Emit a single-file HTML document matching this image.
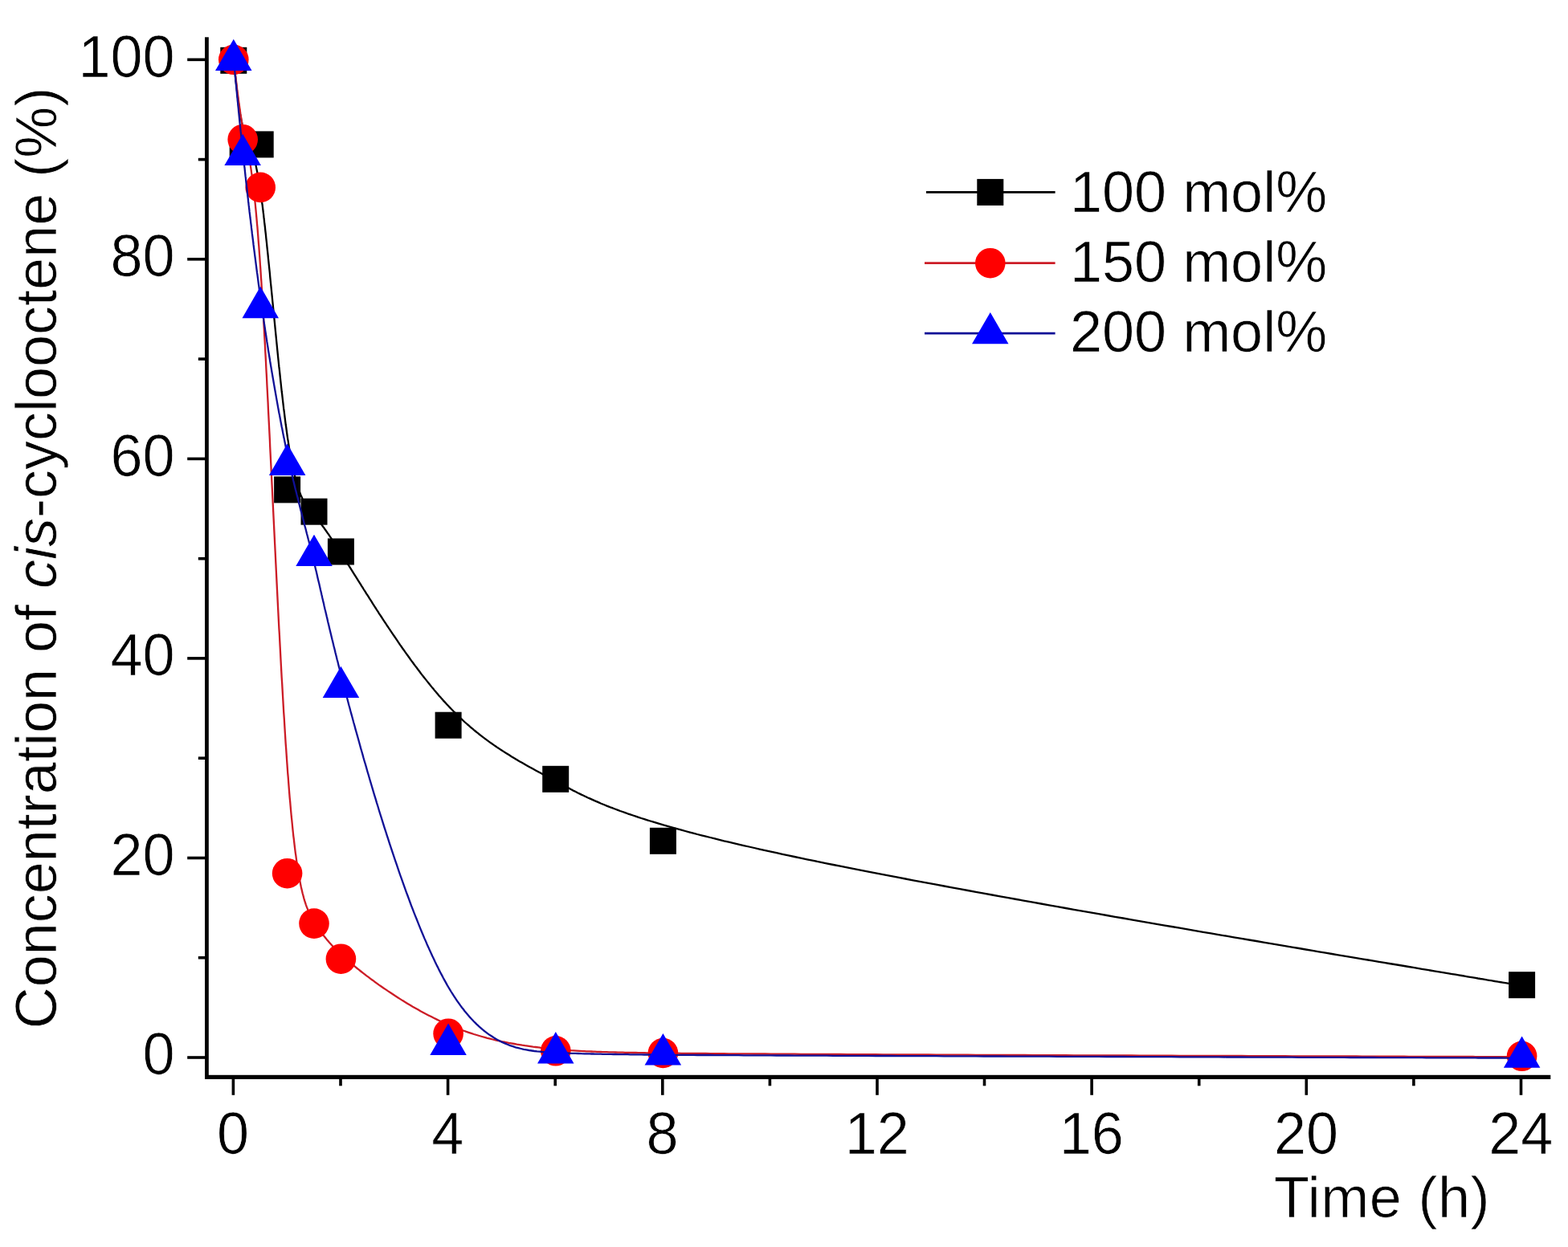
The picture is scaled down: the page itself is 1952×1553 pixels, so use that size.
<!DOCTYPE html>
<html lang="en"><head><meta charset="utf-8"><title>Concentration of cis-cyclooctene vs time</title>
<style>
html,body{margin:0;padding:0;background:#ffffff;}
body{width:1952px;height:1553px;overflow:hidden;}
svg{display:block;}
</style></head><body>
<svg width="1952" height="1553" viewBox="0 0 1952 1553">
<rect width="1952" height="1553" fill="#ffffff"/>
<g fill="#000">
<rect x="255" y="46.3" width="4.8" height="1297.7"/>
<rect x="255" y="1338.8" width="1675.3" height="5.2"/>
<rect x="233.2" y="1315.2" width="23.8" height="3.6"/>
<rect x="246.8" y="1190.9" width="10.2" height="3.6"/>
<rect x="233.2" y="1066.7" width="23.8" height="3.6"/>
<rect x="246.8" y="942.4" width="10.2" height="3.6"/>
<rect x="233.2" y="818.1" width="23.8" height="3.6"/>
<rect x="246.8" y="693.9" width="10.2" height="3.6"/>
<rect x="233.2" y="569.6" width="23.8" height="3.6"/>
<rect x="246.8" y="445.3" width="10.2" height="3.6"/>
<rect x="233.2" y="321" width="23.8" height="3.6"/>
<rect x="246.8" y="196.8" width="10.2" height="3.6"/>
<rect x="233.2" y="72.5" width="23.8" height="3.6"/>
<rect x="288.6" y="1343" width="3.6" height="20.8"/>
<rect x="422.2" y="1343" width="3.6" height="9.3"/>
<rect x="555.8" y="1343" width="3.6" height="20.8"/>
<rect x="689.4" y="1343" width="3.6" height="9.3"/>
<rect x="823" y="1343" width="3.6" height="20.8"/>
<rect x="956.6" y="1343" width="3.6" height="9.3"/>
<rect x="1090.2" y="1343" width="3.6" height="20.8"/>
<rect x="1223.7" y="1343" width="3.6" height="9.3"/>
<rect x="1357.3" y="1343" width="3.6" height="20.8"/>
<rect x="1490.9" y="1343" width="3.6" height="9.3"/>
<rect x="1624.5" y="1343" width="3.6" height="20.8"/>
<rect x="1758.1" y="1343" width="3.6" height="9.3"/>
<rect x="1891.7" y="1343" width="3.6" height="20.8"/>
</g>
<g font-family="'Liberation Sans', sans-serif" font-size="72" fill="#000" stroke="#ffffff" stroke-width="0.7" stroke-linejoin="round">
<text transform="translate(217.5 1338.3) scale(1 1.03)" text-anchor="end">0</text>
<text transform="translate(217.5 1089.8) scale(1 1.03)" text-anchor="end">20</text>
<text transform="translate(217.5 841.2) scale(1 1.03)" text-anchor="end">40</text>
<text transform="translate(217.5 592.7) scale(1 1.03)" text-anchor="end">60</text>
<text transform="translate(217.5 344.1) scale(1 1.03)" text-anchor="end">80</text>
<text transform="translate(217.5 95.6) scale(1 1.03)" text-anchor="end">100</text>
<text transform="translate(290.1 1437) scale(1 1.03)" text-anchor="middle">0</text>
<text transform="translate(557.3 1437) scale(1 1.03)" text-anchor="middle">4</text>
<text transform="translate(824.5 1437) scale(1 1.03)" text-anchor="middle">8</text>
<text transform="translate(1091.7 1437) scale(1 1.03)" text-anchor="middle">12</text>
<text transform="translate(1358.8 1437) scale(1 1.03)" text-anchor="middle">16</text>
<text transform="translate(1626 1437) scale(1 1.03)" text-anchor="middle">20</text>
<text transform="translate(1893.2 1437) scale(1 1.03)" text-anchor="middle">24</text>
<text x="1586" y="1515.8" letter-spacing="0.45">Time (h)</text>
<text transform="translate(70 1281.3) rotate(-90)">Concentration of <tspan font-style="italic">cis</tspan>-cyclooctene (%)</text>
<text x="1332" y="263.8">100 mol%</text>
<text x="1332" y="350.7">150 mol%</text>
<text x="1332" y="438.2">200 mol%</text>
</g>
<path transform="translate(0.2 1)" d="M290.8 75.3 L291 77.4 L291.2 79.4 L291.4 81.4 L291.7 83.6 L291.9 85.8 L292.1 87.8 L292.4 90 L292.6 92.5 L292.8 94.5 L293.1 96.7 L293.3 99 L293.6 101.4 L293.9 104 L294.2 106.6 L294.5 109.3 L294.8 112.1 L295.1 115 L295.5 117.9 L295.9 120.8 L296.3 123.8 L296.5 125.8 L296.8 127.8 L297.1 129.8 L297.4 131.8 L297.7 133.8 L298 135.8 L298.4 138.7 L298.9 141.6 L299.4 144.5 L299.9 147.3 L300.5 150 L301 152.6 L301.6 155.2 L302.1 157.6 L302.7 159.9 L303.3 162.1 L303.9 164.1 L304.8 166.6 L305.7 168.9 L306.6 171.1 L307.5 173.1 L308.5 175.2 L309.4 177.3 L310.4 179.6 L311.5 182.1 L312.3 184.1 L313.1 186.3 L313.9 188.7 L314.8 191.4 L315.6 194.3 L316.2 196.4 L316.8 198.6 L317.4 201 L318 203.6 L318.6 206.3 L319.2 209.2 L319.8 212.2 L320.5 215.5 L321.1 218.9 L321.7 222.6 L322.4 226.5 L322.7 228.5 L323.1 230.6 L323.4 232.7 L323.7 234.9 L324.1 237.2 L324.4 239.5 L324.7 241.8 L325.1 244.3 L325.4 246.8 L325.8 249.4 L326.1 252 L326.5 254.7 L326.8 257.5 L327.2 260.3 L327.5 263.2 L327.9 266.2 L328.2 269.2 L328.6 272.3 L328.9 275.4 L329.3 278.6 L329.7 281.8 L330 285.1 L330.4 288.5 L330.8 291.9 L331.1 295.3 L331.5 298.8 L331.9 302.3 L332.2 305.9 L332.6 309.5 L333 313.1 L333.4 316.8 L333.7 320.5 L334.1 324.2 L334.5 328 L334.9 331.8 L335.3 335.7 L335.7 339.5 L336 343.4 L336.4 347.3 L336.8 351.3 L337.2 355.2 L337.6 359.2 L338 363.2 L338.4 367.2 L338.8 371.2 L339.2 375.3 L339.6 379.3 L340 383.3 L340.4 387.4 L340.8 391.5 L341.2 395.5 L341.6 399.6 L342 403.7 L342.4 407.8 L342.8 411.8 L343.2 415.9 L343.6 419.9 L344 424 L344.4 428 L344.8 432.1 L345.2 436.1 L345.6 440.1 L346 444.1 L346.4 448 L346.8 452 L347.2 455.9 L347.7 459.8 L348.1 463.7 L348.5 467.6 L348.9 471.4 L349.3 475.2 L349.7 479 L350.1 482.7 L350.5 486.5 L351 490.1 L351.4 493.8 L351.8 497.4 L352.2 500.9 L352.6 504.4 L353 507.9 L353.5 511.3 L353.9 514.7 L354.3 518.1 L354.7 521.3 L355.1 524.6 L355.5 527.8 L356 530.9 L356.4 533.9 L356.8 537 L357.2 539.9 L357.6 542.8 L358 545.6 L358.5 548.4 L358.9 551.1 L359.3 553.7 L359.7 556.3 L360.1 558.8 L360.5 561.3 L361 563.7 L361.4 566.1 L361.8 568.4 L362.2 570.6 L362.6 572.8 L363.1 574.9 L363.5 577 L363.9 579.1 L364.3 581 L365.1 584.9 L366 588.5 L366.8 591.9 L367.6 595.2 L368.5 598.3 L369.3 601.2 L370.2 604 L371 606.6 L371.8 609.1 L372.7 611.4 L373.5 613.6 L374.3 615.7 L375.2 617.6 L376 619.4 L377.3 622 L378.5 624.4 L379.8 626.5 L381 628.5 L382.3 630.3 L383.5 632.1 L384.8 633.7 L386.4 635.7 L388.1 637.6 L389.8 639.5 L391.5 641.5 L393.1 643.4 L394.8 645.5 L396.1 647.1 L397.4 648.7 L398.7 650.5 L400.1 652.3 L401.5 654.2 L403 656.2 L404.4 658.3 L406 660.5 L407.6 662.8 L409.3 665.2 L410.4 666.9 L411.6 668.6 L412.8 670.5 L414.1 672.3 L415.3 674.3 L416.7 676.3 L418 678.4 L419.4 680.5 L420.9 682.8 L422.4 685.1 L423.9 687.5 L425.5 690 L427.1 692.5 L428.8 695.2 L430.6 697.9 L432.4 700.8 L434.2 703.7 L436.1 706.7 L438.1 709.8 L440.1 713.1 L442.2 716.4 L443.3 718.1 L444.4 719.8 L445.5 721.6 L446.6 723.3 L447.7 725.1 L448.8 726.9 L450 728.8 L451.2 730.6 L452.3 732.5 L453.5 734.4 L454.8 736.3 L456 738.3 L457.2 740.2 L458.5 742.2 L459.7 744.2 L461 746.2 L462.3 748.2 L463.6 750.3 L464.9 752.3 L466.2 754.4 L467.6 756.5 L468.9 758.6 L470.3 760.7 L471.6 762.8 L473 764.9 L474.4 767 L475.8 769.2 L477.2 771.3 L478.6 773.5 L480.1 775.7 L481.5 777.8 L483 780 L484.4 782.2 L485.9 784.4 L487.4 786.6 L488.9 788.8 L490.4 791 L491.9 793.2 L493.4 795.4 L494.9 797.6 L496.4 799.8 L497.9 802.1 L499.5 804.3 L501 806.5 L502.6 808.7 L504.1 810.9 L505.7 813.1 L507.3 815.3 L508.9 817.5 L510.4 819.7 L512 821.9 L513.6 824 L515.2 826.2 L516.8 828.4 L518.5 830.5 L520.1 832.7 L521.7 834.8 L523.3 837 L524.9 839.1 L526.6 841.2 L528.2 843.3 L529.9 845.4 L531.5 847.4 L533.2 849.5 L534.8 851.5 L536.5 853.6 L538.1 855.6 L539.8 857.6 L541.4 859.6 L543.1 861.5 L544.8 863.5 L546.4 865.4 L548.1 867.3 L549.8 869.2 L551.4 871.1 L553.1 872.9 L554.8 874.7 L556.4 876.5 L558.1 878.3 L559.8 880.1 L561.4 881.8 L563.1 883.5 L564.8 885.2 L566.5 886.9 L568.1 888.5 L569.8 890.2 L571.5 891.8 L573.1 893.4 L574.8 894.9 L576.5 896.5 L578.1 898 L579.8 899.5 L581.5 901 L583.2 902.4 L584.8 903.9 L586.5 905.3 L588.2 906.7 L589.8 908.1 L591.5 909.5 L593.2 910.9 L594.9 912.2 L596.5 913.5 L598.2 914.8 L599.9 916.1 L601.5 917.4 L603.2 918.7 L604.9 919.9 L606.5 921.1 L608.2 922.4 L609.9 923.6 L611.6 924.8 L613.2 925.9 L614.9 927.1 L616.6 928.3 L618.2 929.4 L619.9 930.5 L621.6 931.6 L623.3 932.7 L626.6 934.9 L629.9 937 L633.3 939.1 L636.6 941.2 L640 943.2 L643.3 945.2 L646.6 947.2 L650 949.1 L653.3 951 L656.7 952.9 L660 954.8 L663.3 956.6 L666.7 958.4 L670 960.2 L673.4 962.1 L676.7 963.9 L680.1 965.7 L683.4 967.5 L686.7 969.2 L690.1 971 L693.4 972.8 L696.8 974.7 L700.1 976.5 L703.5 978.3 L707 980.1 L710.5 982 L712.3 982.9 L714.1 983.9 L716 984.8 L717.8 985.7 L719.7 986.7 L721.6 987.6 L723.6 988.6 L725.6 989.5 L727.6 990.5 L729.7 991.5 L731.7 992.5 L733.9 993.4 L736.1 994.4 L738.3 995.4 L740.5 996.4 L742.9 997.4 L745.2 998.4 L747.6 999.5 L750.1 1000.5 L752.6 1001.5 L755.2 1002.6 L757.8 1003.6 L760.5 1004.7 L763.3 1005.7 L766.1 1006.8 L769 1007.9 L771.9 1009 L775 1010 L778.1 1011.1 L781.2 1012.3 L784.5 1013.4 L787.8 1014.5 L791.2 1015.6 L794.7 1016.8 L798.2 1018 L801.9 1019.1 L805.6 1020.3 L809.4 1021.5 L813.3 1022.7 L817.3 1023.9 L821.4 1025.1 L825.6 1026.4 L829.9 1027.6 L834.3 1028.8 L838.8 1030.1 L843.4 1031.4 L848.1 1032.7 L852.9 1034 L857.8 1035.3 L862.8 1036.6 L867.9 1038 L873.1 1039.3 L878.5 1040.7 L884 1042 L889.6 1043.4 L895.3 1044.8 L901.1 1046.3 L907.1 1047.7 L913.2 1049.1 L919.4 1050.6 L925.7 1052.1 L932.2 1053.5 L938.8 1055 L945.5 1056.6 L952.4 1058.1 L959.4 1059.6 L966.6 1061.2 L973.9 1062.8 L981.3 1064.4 L988.9 1066 L996.6 1067.6 L1004.5 1069.3 L1012.5 1070.9 L1020.7 1072.6 L1028.9 1074.3 L1037.3 1076 L1045.8 1077.7 L1054.4 1079.4 L1063.2 1081.1 L1072 1082.8 L1080.9 1084.6 L1090 1086.4 L1099.1 1088.1 L1108.3 1089.9 L1117.6 1091.7 L1127 1093.5 L1136.5 1095.3 L1146.1 1097.1 L1155.7 1098.9 L1165.4 1100.7 L1175.1 1102.5 L1185 1104.3 L1194.8 1106.2 L1204.8 1108 L1214.7 1109.8 L1224.7 1111.7 L1234.8 1113.5 L1244.9 1115.3 L1255 1117.2 L1265.2 1119 L1275.4 1120.8 L1285.6 1122.7 L1295.8 1124.5 L1306 1126.3 L1316.2 1128.1 L1326.5 1130 L1336.7 1131.8 L1347 1133.6 L1357.2 1135.4 L1367.4 1137.2 L1377.7 1139 L1387.8 1140.8 L1398 1142.5 L1408.2 1144.3 L1418.3 1146.1 L1428.4 1147.8 L1438.4 1149.6 L1448.4 1151.3 L1458.4 1153 L1468.3 1154.7 L1478.1 1156.4 L1487.9 1158.1 L1497.7 1159.8 L1507.3 1161.4 L1516.9 1163.1 L1526.5 1164.7 L1535.9 1166.3 L1545.3 1167.9 L1554.6 1169.5 L1563.8 1171 L1572.9 1172.6 L1581.9 1174.1 L1590.8 1175.6 L1599.6 1177.1 L1608.3 1178.6 L1616.8 1180 L1625.3 1181.5 L1633.7 1182.9 L1641.9 1184.3 L1650 1185.6 L1657.9 1187 L1665.8 1188.3 L1673.4 1189.6 L1681 1190.8 L1688.4 1192.1 L1695.6 1193.3 L1702.7 1194.5 L1709.6 1195.6 L1716.4 1196.8 L1723 1197.9 L1729.4 1199 L1735.7 1200 L1741.8 1201 L1747.8 1202 L1753.6 1203 L1759.2 1203.9 L1764.7 1204.9 L1770 1205.8 L1775.2 1206.6 L1780.3 1207.5 L1785.2 1208.3 L1789.9 1209.1 L1794.5 1209.9 L1799 1210.6 L1803.4 1211.4 L1807.6 1212.1 L1811.7 1212.7 L1815.6 1213.4 L1819.4 1214 L1823.1 1214.7 L1826.7 1215.3 L1830.1 1215.8 L1833.5 1216.4 L1836.7 1216.9 L1839.8 1217.5 L1842.8 1218 L1845.7 1218.4 L1848.4 1218.9 L1851.1 1219.4 L1853.7 1219.8 L1856.1 1220.2 L1858.5 1220.6 L1860.7 1221 L1862.9 1221.3 L1865 1221.7 L1866.9 1222 L1870.6 1222.6 L1874 1223.2 L1877 1223.7 L1879.7 1224.2 L1882.1 1224.6 L1884.2 1224.9 L1887 1225.4 L1889.2 1225.7 L1891.4 1226.1 L1893.4 1226.5 L1894.6 1226.7" fill="none" stroke="#000" stroke-width="2.3" stroke-linejoin="round"/>
<g fill="#000"><rect x="274.3" y="58.8" width="33" height="33"/><rect x="285.7" y="165.9" width="33" height="33"/><rect x="307.7" y="163.4" width="33" height="33"/><rect x="341.1" y="593.4" width="33" height="33"/><rect x="374.5" y="620.7" width="33" height="33"/><rect x="407.9" y="670.5" width="33" height="33"/><rect x="541.6" y="886.7" width="33" height="33"/><rect x="675.2" y="953.8" width="33" height="33"/><rect x="808.9" y="1030.8" width="33" height="33"/><rect x="1878.1" y="1210.2" width="33" height="33"/></g>
<path transform="translate(0.2 1)" d="M290.8 74.3 L291 76.4 L291.3 78.6 L291.5 80.6 L291.8 82.8 L292 84.9 L292.3 87.4 L292.6 89.7 L292.8 92.1 L293.1 94.2 L293.3 96.3 L293.6 98.6 L293.9 101 L294.2 103.5 L294.5 106 L294.8 108.7 L295.1 111.5 L295.5 114.3 L295.9 117.2 L296.3 120.2 L296.5 122.2 L296.8 124.2 L297.1 126.3 L297.4 128.3 L297.7 130.4 L298 132.5 L298.3 134.6 L298.6 136.7 L298.9 138.9 L299.2 141 L299.6 143.1 L299.9 145.3 L300.3 147.4 L300.6 149.5 L301 151.6 L301.4 153.7 L301.7 155.8 L302.1 157.9 L302.5 160 L302.9 162 L303.3 164.1 L303.7 166.1 L304.2 168.1 L304.6 170.1 L305 172 L305.4 174 L305.9 176 L306.3 178 L306.8 180.1 L307.3 182.2 L307.7 184.4 L308.2 186.7 L308.7 189.1 L309.2 191.6 L309.7 194.2 L310.2 197 L310.7 199.9 L311.2 203 L311.8 206.3 L312.3 209.7 L312.8 213.4 L313.4 217.2 L313.6 219.3 L313.9 221.3 L314.2 223.5 L314.5 225.7 L314.8 228 L315.1 230.3 L315.3 232.7 L315.6 235.2 L315.9 237.7 L316.2 240.3 L316.5 243 L316.8 245.7 L317.1 248.6 L317.4 251.5 L317.7 254.5 L318 257.6 L318.3 260.7 L318.6 264 L318.9 267.3 L319.2 270.7 L319.5 274.2 L319.8 277.8 L320.2 281.5 L320.5 285.3 L320.8 289.2 L321.1 293.2 L321.4 297.3 L321.7 301.4 L322.1 305.7 L322.4 310.1 L322.7 314.6 L323.1 319.2 L323.4 324 L323.7 328.8 L324.1 333.7 L324.4 338.8 L324.7 343.9 L325.1 349.2 L325.4 354.6 L325.8 360.2 L326.1 365.8 L326.5 371.6 L326.8 377.5 L327.2 383.5 L327.5 389.6 L327.9 395.9 L328.2 402.2 L328.6 408.7 L328.9 415.2 L329.3 421.9 L329.7 428.6 L330 435.5 L330.4 442.4 L330.8 449.4 L331.1 456.5 L331.5 463.7 L331.9 471 L332.2 478.3 L332.6 485.7 L333 493.2 L333.4 500.8 L333.7 508.4 L334.1 516 L334.5 523.8 L334.9 531.5 L335.3 539.4 L335.7 547.2 L336 555.2 L336.4 563.1 L336.8 571.1 L337.2 579.1 L337.6 587.2 L338 595.3 L338.4 603.4 L338.8 611.5 L339.2 619.7 L339.6 627.8 L340 636 L340.4 644.2 L340.8 652.4 L341.2 660.6 L341.6 668.8 L342 677 L342.4 685.2 L342.8 693.4 L343.2 701.5 L343.6 709.7 L344 717.8 L344.4 725.9 L344.8 734 L345.2 742.1 L345.6 750.1 L346 758.1 L346.4 766.1 L346.8 774 L347.2 781.9 L347.7 789.7 L348.1 797.5 L348.5 805.2 L348.9 812.9 L349.3 820.5 L349.7 828.1 L350.1 835.6 L350.5 843 L351 850.3 L351.4 857.6 L351.8 864.8 L352.2 871.9 L352.6 879 L353 885.9 L353.5 892.8 L353.9 899.5 L354.3 906.2 L354.7 912.8 L355.1 919.2 L355.5 925.6 L356 931.9 L356.4 938 L356.8 944 L357.2 949.9 L357.6 955.7 L358 961.4 L358.5 966.9 L358.9 972.4 L359.3 977.7 L359.7 982.9 L360.1 987.9 L360.5 992.9 L361 997.7 L361.4 1002.5 L361.8 1007.1 L362.2 1011.6 L362.6 1016 L363.1 1020.3 L363.5 1024.5 L363.9 1028.6 L364.3 1032.6 L364.7 1036.5 L365.1 1040.3 L365.6 1044 L366 1047.6 L366.4 1051.1 L366.8 1054.5 L367.2 1057.8 L367.6 1061.1 L368.1 1064.2 L368.5 1067.3 L368.9 1070.3 L369.3 1073.2 L369.7 1076 L370.2 1078.7 L370.6 1081.4 L371 1084 L371.4 1086.5 L371.8 1088.9 L372.2 1091.3 L372.7 1093.6 L373.1 1095.8 L373.5 1097.9 L373.9 1100 L374.3 1102 L374.7 1104 L375.6 1107.7 L376.4 1111.2 L377.3 1114.5 L378.1 1117.6 L378.9 1120.4 L379.8 1123.1 L380.6 1125.6 L381.4 1127.9 L382.3 1130.1 L383.1 1132.2 L383.9 1134.1 L385.2 1136.8 L386.4 1139.2 L387.7 1141.5 L388.9 1143.7 L390.2 1145.7 L391.5 1147.7 L392.7 1149.7 L394 1151.7 L395.2 1153.6 L396.5 1155.5 L397.9 1157.4 L399.2 1159.3 L400.6 1161.2 L402 1163.2 L403.4 1165.1 L405 1167 L406.5 1168.9 L408.1 1170.8 L409.8 1172.8 L411.6 1174.8 L413.4 1176.8 L415.3 1178.8 L417.3 1180.9 L419.4 1183 L420.9 1184.4 L422.4 1185.9 L423.9 1187.3 L425.5 1188.8 L427.1 1190.3 L428.8 1191.8 L430.6 1193.4 L432.4 1194.9 L434.2 1196.5 L436.1 1198.2 L438.1 1199.8 L440.1 1201.5 L442.2 1203.2 L444.4 1205 L446.6 1206.7 L448.8 1208.5 L451.2 1210.4 L453.5 1212.2 L456 1214.1 L458.5 1215.9 L461 1217.8 L463.6 1219.7 L466.2 1221.7 L468.9 1223.6 L471.6 1225.6 L474.4 1227.5 L477.2 1229.5 L480.1 1231.4 L483 1233.4 L485.9 1235.3 L488.9 1237.3 L491.9 1239.3 L494.9 1241.2 L497.9 1243.1 L501 1245.1 L504.1 1247 L507.3 1248.9 L510.4 1250.8 L513.6 1252.7 L516.8 1254.5 L520.1 1256.3 L523.3 1258.2 L526.6 1259.9 L529.9 1261.7 L533.2 1263.4 L536.5 1265.1 L539.8 1266.8 L543.1 1268.4 L546.4 1270 L549.8 1271.6 L553.1 1273.1 L556.4 1274.6 L559.8 1276 L563.1 1277.4 L566.5 1278.7 L569.8 1280 L573.1 1281.3 L576.5 1282.5 L579.8 1283.7 L583.2 1284.8 L586.5 1285.9 L589.8 1287 L593.2 1288 L596.5 1289 L599.9 1290 L603.2 1290.9 L606.5 1291.8 L609.9 1292.6 L613.2 1293.5 L616.6 1294.3 L619.9 1295 L623.3 1295.8 L626.6 1296.5 L629.9 1297.1 L633.3 1297.8 L636.6 1298.4 L640 1299 L643.3 1299.6 L646.6 1300.1 L650 1300.7 L653.3 1301.2 L656.7 1301.6 L660 1302.1 L663.3 1302.6 L666.7 1303 L670 1303.4 L673.4 1303.8 L676.7 1304.1 L680.1 1304.5 L683.4 1304.8 L686.7 1305.2 L690.1 1305.5 L693.4 1305.8 L696.8 1306.1 L700.1 1306.4 L703.5 1306.6 L707 1306.9 L710.5 1307.2 L714.1 1307.4 L717.8 1307.6 L721.6 1307.8 L725.6 1308.1 L727.6 1308.2 L729.7 1308.3 L731.7 1308.4 L733.9 1308.4 L736.1 1308.5 L738.3 1308.6 L740.5 1308.7 L742.9 1308.8 L745.2 1308.9 L747.6 1309 L750.1 1309.1 L752.6 1309.1 L755.2 1309.2 L757.8 1309.3 L760.5 1309.4 L763.3 1309.4 L766.1 1309.5 L769 1309.6 L771.9 1309.7 L775 1309.7 L778.1 1309.8 L781.2 1309.9 L784.5 1309.9 L787.8 1310 L791.2 1310 L794.7 1310.1 L798.2 1310.2 L801.9 1310.2 L805.6 1310.3 L809.4 1310.3 L813.3 1310.4 L817.3 1310.4 L821.4 1310.5 L825.6 1310.5 L829.9 1310.6 L834.3 1310.6 L838.8 1310.7 L843.4 1310.7 L848.1 1310.8 L852.9 1310.8 L857.8 1310.9 L862.8 1310.9 L867.9 1311 L873.1 1311 L878.5 1311 L884 1311.1 L889.6 1311.1 L895.3 1311.2 L901.1 1311.2 L907.1 1311.3 L913.2 1311.3 L919.4 1311.3 L925.7 1311.4 L932.2 1311.4 L938.8 1311.5 L945.5 1311.5 L952.4 1311.5 L959.4 1311.6 L966.6 1311.6 L973.9 1311.7 L981.3 1311.7 L988.9 1311.7 L996.6 1311.8 L1004.5 1311.8 L1012.5 1311.9 L1020.7 1311.9 L1028.9 1311.9 L1037.3 1312 L1045.8 1312 L1054.4 1312.1 L1063.2 1312.1 L1072 1312.1 L1080.9 1312.2 L1090 1312.2 L1099.1 1312.3 L1108.3 1312.3 L1117.6 1312.4 L1127 1312.4 L1136.5 1312.4 L1146.1 1312.5 L1155.7 1312.5 L1165.4 1312.6 L1175.1 1312.6 L1185 1312.6 L1194.8 1312.7 L1204.8 1312.7 L1214.7 1312.8 L1224.7 1312.8 L1234.8 1312.9 L1244.9 1312.9 L1255 1312.9 L1265.2 1313 L1275.4 1313 L1285.6 1313.1 L1295.8 1313.1 L1306 1313.1 L1316.2 1313.2 L1326.5 1313.2 L1336.7 1313.3 L1347 1313.3 L1357.2 1313.3 L1367.4 1313.4 L1377.7 1313.4 L1387.8 1313.5 L1398 1313.5 L1408.2 1313.5 L1418.3 1313.6 L1428.4 1313.6 L1438.4 1313.6 L1448.4 1313.7 L1458.4 1313.7 L1468.3 1313.8 L1478.1 1313.8 L1487.9 1313.8 L1497.7 1313.9 L1507.3 1313.9 L1516.9 1313.9 L1526.5 1314 L1535.9 1314 L1545.3 1314 L1554.6 1314.1 L1563.8 1314.1 L1572.9 1314.1 L1581.9 1314.2 L1590.8 1314.2 L1599.6 1314.2 L1608.3 1314.3 L1616.8 1314.3 L1625.3 1314.3 L1633.7 1314.3 L1641.9 1314.4 L1650 1314.4 L1657.9 1314.4 L1665.8 1314.5 L1673.4 1314.5 L1681 1314.5 L1688.4 1314.5 L1695.6 1314.6 L1702.7 1314.6 L1709.6 1314.6 L1716.4 1314.6 L1723 1314.7 L1729.4 1314.7 L1735.7 1314.7 L1741.8 1314.7 L1747.8 1314.7 L1753.6 1314.8 L1759.2 1314.8 L1764.7 1314.8 L1770 1314.8 L1775.2 1314.8 L1780.3 1314.9 L1785.2 1314.9 L1789.9 1314.9 L1794.5 1314.9 L1799 1314.9 L1803.4 1314.9 L1807.6 1315 L1811.7 1315 L1815.6 1315 L1819.4 1315 L1823.1 1315 L1826.7 1315 L1830.1 1315 L1833.5 1315 L1836.7 1315.1 L1839.8 1315.1 L1842.8 1315.1 L1845.7 1315.1 L1848.4 1315.1 L1851.1 1315.1 L1853.7 1315.1 L1856.1 1315.1 L1858.5 1315.1 L1860.7 1315.1 L1862.9 1315.1 L1865 1315.2 L1868.8 1315.2 L1872.3 1315.2 L1875.5 1315.2 L1878.4 1315.2 L1880.9 1315.2 L1883.2 1315.2 L1885.2 1315.2 L1887.7 1315.2 L1889.8 1315.2 L1891.8 1315.3 L1893.8 1315.3 L1894.6 1315.3" fill="none" stroke="#cc1c26" stroke-width="2.3" stroke-linejoin="round"/>
<g fill="#f00"><circle cx="290.8" cy="74.3" r="18.8"/><circle cx="302.2" cy="173.7" r="18.8"/><circle cx="324.2" cy="233.4" r="18.8"/><circle cx="357.6" cy="1087.7" r="18.8"/><circle cx="391" cy="1150.1" r="18.8"/><circle cx="424.4" cy="1194.2" r="18.8"/><circle cx="558.1" cy="1287.2" r="18.8"/><circle cx="691.8" cy="1308.8" r="18.8"/><circle cx="825.4" cy="1311.5" r="18.8"/><circle cx="1894.6" cy="1315.3" r="18.8"/></g>
<path transform="translate(0.2 1)" d="M290.8 74.9 L291 77 L291.2 79.2 L291.4 81.3 L291.6 83.6 L291.9 86 L292.1 88.1 L292.3 90.5 L292.6 93.2 L292.8 95.3 L293 97.7 L293.2 100.2 L293.5 102.9 L293.8 105.7 L294.1 108.7 L294.3 110.8 L294.5 112.9 L294.7 115.1 L294.9 117.4 L295.1 119.8 L295.4 122.2 L295.6 124.6 L295.9 127.2 L296.1 129.8 L296.4 132.4 L296.7 135.1 L296.9 137.9 L297.2 140.7 L297.5 143.6 L297.8 146.6 L298.1 149.6 L298.4 152.7 L298.8 155.8 L299.1 159 L299.4 162.2 L299.8 165.5 L300.1 168.8 L300.5 172.2 L300.8 175.7 L301.2 179.2 L301.6 182.7 L301.9 186.3 L302.3 189.9 L302.7 193.6 L303.1 197.4 L303.5 201.2 L303.9 205 L304.4 208.9 L304.8 212.8 L305.2 216.7 L305.4 218.7 L305.7 220.7 L305.9 222.8 L306.1 224.8 L306.3 226.8 L306.6 228.9 L306.8 230.9 L307 233 L307.3 235.1 L307.5 237.2 L307.7 239.3 L308 241.4 L308.2 243.5 L308.5 245.6 L308.7 247.7 L308.9 249.9 L309.2 252 L309.4 254.2 L309.7 256.3 L309.9 258.5 L310.2 260.7 L310.4 262.9 L310.7 265.1 L311 267.3 L311.2 269.5 L311.5 271.7 L311.8 273.9 L312 276.1 L312.3 278.4 L312.6 280.6 L312.8 282.9 L313.1 285.1 L313.4 287.4 L313.6 289.7 L313.9 291.9 L314.2 294.2 L314.5 296.5 L314.8 298.8 L315.1 301.1 L315.3 303.4 L315.6 305.7 L315.9 308 L316.2 310.3 L316.5 312.7 L316.8 315 L317.1 317.3 L317.4 319.7 L317.7 322 L318 324.4 L318.3 326.7 L318.6 329.1 L318.9 331.4 L319.2 333.8 L319.5 336.2 L319.8 338.5 L320.2 340.9 L320.5 343.3 L320.8 345.7 L321.1 348 L321.4 350.4 L321.7 352.8 L322.1 355.2 L322.4 357.6 L322.7 360 L323.1 362.4 L323.4 364.8 L323.7 367.2 L324.1 369.6 L324.4 372 L324.7 374.4 L325.1 376.8 L325.4 379.2 L325.8 381.6 L326.1 384 L326.5 386.5 L326.8 388.9 L327.2 391.3 L327.5 393.7 L327.9 396.1 L328.2 398.5 L328.6 400.9 L328.9 403.3 L329.3 405.8 L329.7 408.2 L330 410.6 L330.4 413 L330.8 415.4 L331.1 417.8 L331.5 420.2 L331.9 422.6 L332.2 425 L332.6 427.4 L333 429.8 L333.4 432.2 L333.7 434.6 L334.1 437 L334.5 439.4 L334.9 441.8 L335.3 444.2 L335.7 446.5 L336 448.9 L336.4 451.3 L336.8 453.6 L337.2 456 L337.6 458.4 L338 460.7 L338.4 463.1 L338.8 465.4 L339.2 467.8 L339.6 470.1 L340 472.4 L340.4 474.7 L340.8 477.1 L341.2 479.4 L341.6 481.7 L342 484 L342.4 486.3 L342.8 488.6 L343.2 490.8 L343.6 493.1 L344 495.4 L344.4 497.6 L344.8 499.9 L345.2 502.1 L345.6 504.4 L346 506.6 L346.4 508.8 L346.8 511 L347.2 513.2 L347.7 515.4 L348.1 517.6 L348.5 519.8 L348.9 522 L349.3 524.1 L349.7 526.3 L350.1 528.4 L350.5 530.5 L351 532.6 L351.4 534.8 L351.8 536.9 L352.2 538.9 L352.6 541 L353 543.1 L353.5 545.1 L353.9 547.2 L354.3 549.2 L354.7 551.2 L355.1 553.3 L355.5 555.3 L356 557.2 L356.4 559.2 L356.8 561.2 L357.6 565.1 L358.5 568.9 L359.3 572.7 L360.1 576.4 L361 580.1 L361.8 583.8 L362.6 587.4 L363.5 590.9 L364.3 594.5 L365.1 598 L366 601.4 L366.8 604.9 L367.6 608.3 L368.5 611.6 L369.3 615 L370.2 618.3 L371 621.6 L371.8 624.9 L372.7 628.2 L373.5 631.5 L374.3 634.7 L375.2 638 L376 641.2 L376.8 644.4 L377.7 647.6 L378.5 650.9 L379.3 654.1 L380.2 657.3 L381 660.5 L381.8 663.8 L382.7 667 L383.5 670.3 L384.4 673.5 L385.2 676.8 L386 680.1 L386.9 683.4 L387.7 686.8 L388.5 690.2 L389.4 693.5 L390.2 697 L391 700.4 L391.9 703.9 L392.7 707.4 L393.6 711 L394.4 714.6 L395.2 718.2 L396.1 721.9 L397 725.6 L397.9 729.5 L398.7 733.3 L399.2 735.3 L399.7 737.2 L400.1 739.2 L400.6 741.2 L401 743.3 L401.5 745.3 L402 747.4 L402.5 749.5 L403 751.6 L403.4 753.7 L403.9 755.8 L404.4 758 L405 760.2 L405.5 762.4 L406 764.6 L406.5 766.8 L407.1 769.1 L407.6 771.4 L408.1 773.7 L408.7 776.1 L409.3 778.5 L409.8 780.9 L410.4 783.3 L411 785.7 L411.6 788.2 L412.2 790.7 L412.8 793.2 L413.4 795.8 L414.1 798.4 L414.7 801 L415.3 803.6 L416 806.3 L416.7 809 L417.3 811.8 L418 814.5 L418.7 817.3 L419.4 820.2 L420.2 823 L420.9 825.9 L421.6 828.9 L422.4 831.8 L423.1 834.8 L423.9 837.9 L424.7 840.9 L425.5 844 L426.3 847.2 L427.1 850.4 L428 853.6 L428.8 856.8 L429.7 860.1 L430.6 863.5 L431.5 866.8 L432.4 870.2 L433.3 873.7 L434.2 877.2 L435.2 880.7 L436.1 884.3 L437.1 887.9 L438.1 891.5 L439.1 895.2 L440.1 899 L441.2 902.8 L442.2 906.6 L443.3 910.5 L444.4 914.4 L445.5 918.3 L446.6 922.3 L447.7 926.3 L448.8 930.4 L450 934.5 L451.2 938.6 L452.3 942.8 L453.5 947 L454.8 951.2 L456 955.4 L457.2 959.7 L458.5 964 L459.7 968.3 L461 972.7 L462.3 977 L463.6 981.4 L464.9 985.8 L466.2 990.2 L467.6 994.6 L468.9 999.1 L470.3 1003.5 L471.6 1008 L473 1012.5 L474.4 1016.9 L475.8 1021.4 L477.2 1025.9 L478.6 1030.4 L480.1 1034.9 L481.5 1039.4 L483 1043.9 L484.4 1048.4 L485.9 1052.9 L487.4 1057.3 L488.9 1061.8 L490.4 1066.3 L491.9 1070.8 L493.4 1075.2 L494.9 1079.6 L496.4 1084.1 L497.9 1088.5 L499.5 1092.9 L501 1097.2 L502.6 1101.6 L504.1 1105.9 L505.7 1110.3 L507.3 1114.5 L508.9 1118.8 L510.4 1123 L512 1127.3 L513.6 1131.4 L515.2 1135.6 L516.8 1139.7 L518.5 1143.8 L520.1 1147.9 L521.7 1151.9 L523.3 1155.9 L524.9 1159.8 L526.6 1163.7 L528.2 1167.6 L529.9 1171.4 L531.5 1175.2 L533.2 1178.9 L534.8 1182.6 L536.5 1186.2 L538.1 1189.8 L539.8 1193.3 L541.4 1196.8 L543.1 1200.3 L544.8 1203.6 L546.4 1206.9 L548.1 1210.2 L549.8 1213.4 L551.4 1216.5 L553.1 1219.6 L554.8 1222.6 L556.4 1225.6 L558.1 1228.5 L559.8 1231.3 L561.4 1234 L563.1 1236.7 L564.8 1239.3 L566.5 1241.9 L568.1 1244.3 L569.8 1246.8 L571.5 1249.1 L573.1 1251.4 L574.8 1253.7 L576.5 1255.8 L578.1 1258 L579.8 1260 L581.5 1262 L583.2 1264 L584.8 1265.9 L586.5 1267.7 L588.2 1269.5 L589.8 1271.2 L591.5 1272.9 L593.2 1274.6 L594.9 1276.1 L596.5 1277.7 L598.2 1279.1 L599.9 1280.6 L601.5 1282 L603.2 1283.3 L604.9 1284.6 L606.5 1285.9 L608.2 1287.1 L609.9 1288.2 L611.6 1289.3 L614.9 1291.5 L618.2 1293.4 L621.6 1295.2 L624.9 1296.9 L628.3 1298.4 L631.6 1299.8 L634.9 1301.1 L638.3 1302.2 L641.6 1303.3 L645 1304.2 L648.3 1305 L651.7 1305.8 L655 1306.4 L658.3 1307 L661.7 1307.5 L665 1308 L668.4 1308.4 L671.7 1308.7 L675 1309 L678.4 1309.2 L681.7 1309.4 L685.1 1309.6 L688.4 1309.8 L691.8 1310 L695.1 1310.1 L698.5 1310.3 L701.8 1310.4 L705.3 1310.5 L708.8 1310.7 L712.3 1310.8 L716 1310.9 L719.7 1311 L723.6 1311.2 L727.6 1311.3 L729.7 1311.3 L731.7 1311.4 L733.9 1311.4 L736.1 1311.5 L738.3 1311.5 L740.5 1311.6 L742.9 1311.6 L745.2 1311.7 L747.6 1311.7 L750.1 1311.8 L752.6 1311.8 L755.2 1311.9 L757.8 1311.9 L760.5 1311.9 L763.3 1312 L766.1 1312 L769 1312.1 L771.9 1312.1 L775 1312.2 L778.1 1312.2 L781.2 1312.2 L784.5 1312.3 L787.8 1312.3 L791.2 1312.3 L794.7 1312.4 L798.2 1312.4 L801.9 1312.5 L805.6 1312.5 L809.4 1312.5 L813.3 1312.6 L817.3 1312.6 L821.4 1312.6 L825.6 1312.7 L829.9 1312.7 L834.3 1312.7 L838.8 1312.8 L843.4 1312.8 L848.1 1312.8 L852.9 1312.9 L857.8 1312.9 L862.8 1312.9 L867.9 1313 L873.1 1313 L878.5 1313 L884 1313 L889.6 1313.1 L895.3 1313.1 L901.1 1313.1 L907.1 1313.2 L913.2 1313.2 L919.4 1313.2 L925.7 1313.3 L932.2 1313.3 L938.8 1313.3 L945.5 1313.4 L952.4 1313.4 L959.4 1313.4 L966.6 1313.5 L973.9 1313.5 L981.3 1313.5 L988.9 1313.6 L996.6 1313.6 L1004.5 1313.6 L1012.5 1313.7 L1020.7 1313.7 L1028.9 1313.7 L1037.3 1313.8 L1045.8 1313.8 L1054.4 1313.8 L1063.2 1313.9 L1072 1313.9 L1080.9 1313.9 L1090 1314 L1099.1 1314 L1108.3 1314 L1117.6 1314.1 L1127 1314.1 L1136.5 1314.1 L1146.1 1314.2 L1155.7 1314.2 L1165.4 1314.2 L1175.1 1314.3 L1185 1314.3 L1194.8 1314.3 L1204.8 1314.4 L1214.7 1314.4 L1224.7 1314.5 L1234.8 1314.5 L1244.9 1314.5 L1255 1314.6 L1265.2 1314.6 L1275.4 1314.6 L1285.6 1314.7 L1295.8 1314.7 L1306 1314.7 L1316.2 1314.8 L1326.5 1314.8 L1336.7 1314.8 L1347 1314.9 L1357.2 1314.9 L1367.4 1314.9 L1377.7 1315 L1387.8 1315 L1398 1315 L1408.2 1315.1 L1418.3 1315.1 L1428.4 1315.1 L1438.4 1315.2 L1448.4 1315.2 L1458.4 1315.2 L1468.3 1315.3 L1478.1 1315.3 L1487.9 1315.3 L1497.7 1315.4 L1507.3 1315.4 L1516.9 1315.4 L1526.5 1315.5 L1535.9 1315.5 L1545.3 1315.5 L1554.6 1315.6 L1563.8 1315.6 L1572.9 1315.6 L1581.9 1315.6 L1590.8 1315.7 L1599.6 1315.7 L1608.3 1315.7 L1616.8 1315.8 L1625.3 1315.8 L1633.7 1315.8 L1641.9 1315.8 L1650 1315.9 L1657.9 1315.9 L1665.8 1315.9 L1673.4 1315.9 L1681 1316 L1688.4 1316 L1695.6 1316 L1702.7 1316 L1709.6 1316 L1716.4 1316.1 L1723 1316.1 L1729.4 1316.1 L1735.7 1316.1 L1741.8 1316.1 L1747.8 1316.2 L1753.6 1316.2 L1759.2 1316.2 L1764.7 1316.2 L1770 1316.2 L1775.2 1316.3 L1780.3 1316.3 L1785.2 1316.3 L1789.9 1316.3 L1794.5 1316.3 L1799 1316.3 L1803.4 1316.3 L1807.6 1316.4 L1811.7 1316.4 L1815.6 1316.4 L1819.4 1316.4 L1823.1 1316.4 L1826.7 1316.4 L1830.1 1316.4 L1833.5 1316.4 L1836.7 1316.4 L1839.8 1316.5 L1842.8 1316.5 L1845.7 1316.5 L1848.4 1316.5 L1851.1 1316.5 L1853.7 1316.5 L1856.1 1316.5 L1858.5 1316.5 L1860.7 1316.5 L1862.9 1316.5 L1865 1316.5 L1868.8 1316.5 L1872.3 1316.6 L1875.5 1316.6 L1878.4 1316.6 L1880.9 1316.6 L1883.2 1316.6 L1885.2 1316.6 L1887.7 1316.6 L1889.8 1316.6 L1891.8 1316.6 L1893.8 1316.6 L1894.6 1316.6" fill="none" stroke="#101096" stroke-width="2.3" stroke-linejoin="round"/>
<g fill="#00f"><polygon points="290.8,48.7 313.5,88.1 268,88.1"/><polygon points="302.2,166.7 324.9,206.1 279.4,206.1"/><polygon points="324.2,356.8 347,396.2 301.5,396.2"/><polygon points="357.6,552.6 380.4,592 334.9,592"/><polygon points="391,665.7 413.8,705.1 368.3,705.1"/><polygon points="424.4,829.7 447.2,869.1 401.7,869.1"/><polygon points="558.1,1274.6 580.8,1314 535.3,1314"/><polygon points="691.8,1285.1 714.5,1324.5 669,1324.5"/><polygon points="825.4,1287 848.1,1326.4 802.6,1326.4"/><polygon points="1894.6,1290.4 1917.4,1329.8 1871.9,1329.8"/></g>
<path d="M1153 239.4 H1313.6" stroke="#000" stroke-width="2.8"/>
<g fill="#000"><rect x="1216.3" y="222.9" width="33" height="33"/></g>
<path d="M1151 327.7 H1313.6" stroke="#cc1c26" stroke-width="2.8"/>
<g fill="#f00"><circle cx="1232.8" cy="327.7" r="18.8"/></g>
<path d="M1151 415.2 H1313.6" stroke="#101096" stroke-width="2.8"/>
<g fill="#00f"><polygon points="1232.8,388.9 1255.5,428.3 1210,428.3"/></g>
</svg>
</body></html>
